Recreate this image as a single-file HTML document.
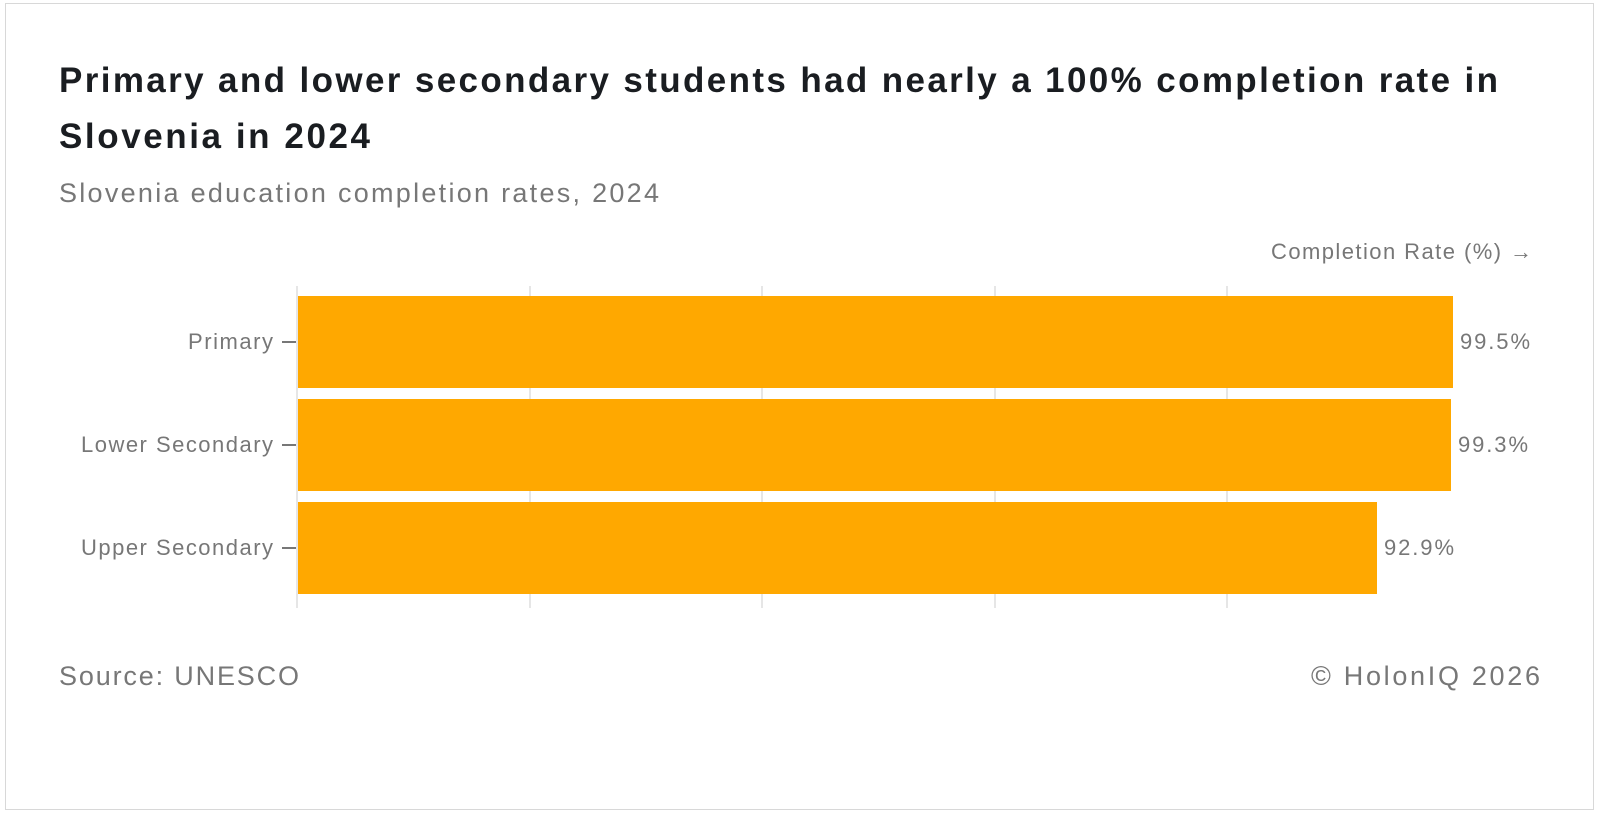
<!DOCTYPE html>
<html><head><style>
body{margin:0;width:1600px;height:813px;background:#fff;font-family:"Liberation Sans",sans-serif;position:relative;overflow:hidden}
.frame{position:absolute;left:5px;top:3px;width:1589px;height:807px;border:1px solid #d8d8d8;box-sizing:border-box}
</style></head><body>
<div class="frame"></div>
<svg style="position:absolute;left:0;top:0" width="1600" height="813" font-family="Liberation Sans,sans-serif">
<text x="59" y="92" font-size="35" font-weight="bold" fill="#1a1d21" textLength="1439" lengthAdjust="spacing">Primary and lower secondary students had nearly a 100% completion rate in</text>
<text x="59" y="148" font-size="35" font-weight="bold" fill="#1a1d21" textLength="311" lengthAdjust="spacing">Slovenia in 2024</text>
<text x="59" y="202" font-size="27" fill="#777" textLength="600" lengthAdjust="spacing">Slovenia education completion rates, 2024</text>
<g stroke="#e6e6e6" stroke-width="2">
<line x1="297" y1="286" x2="297" y2="608"/><line x1="530" y1="286" x2="530" y2="608"/><line x1="762" y1="286" x2="762" y2="608"/><line x1="995" y1="286" x2="995" y2="608"/><line x1="1227" y1="286" x2="1227" y2="608"/>
</g>
<g fill="#FFA800">
<rect x="298" y="296" width="1155" height="92"/>
<rect x="298" y="399" width="1153" height="92"/>
<rect x="298" y="502" width="1079" height="92"/>
</g>
<g stroke="#777" stroke-width="2">
<line x1="282" y1="342" x2="296" y2="342"/><line x1="282" y1="445" x2="296" y2="445"/><line x1="282" y1="548" x2="296" y2="548"/>
</g>
<g font-size="22" fill="#777">
<text x="188" y="349" textLength="85" lengthAdjust="spacing">Primary</text>
<text x="81" y="452" textLength="192" lengthAdjust="spacing">Lower Secondary</text>
<text x="81" y="555" textLength="192" lengthAdjust="spacing">Upper Secondary</text>
<text x="1460" y="349" textLength="70" lengthAdjust="spacing">99.5%</text>
<text x="1458" y="452" textLength="70" lengthAdjust="spacing">99.3%</text>
<text x="1384" y="555" textLength="70" lengthAdjust="spacing">92.9%</text>
<text x="1271" y="259" textLength="261" lengthAdjust="spacing">Completion Rate (%) →</text>
</g>
<g font-size="27" fill="#777">
<text x="59" y="685" textLength="240" lengthAdjust="spacing">Source: UNESCO</text>
<text x="1311" y="685" textLength="229" lengthAdjust="spacing">© HolonIQ 2026</text>
</g>
</svg>
</body></html>
